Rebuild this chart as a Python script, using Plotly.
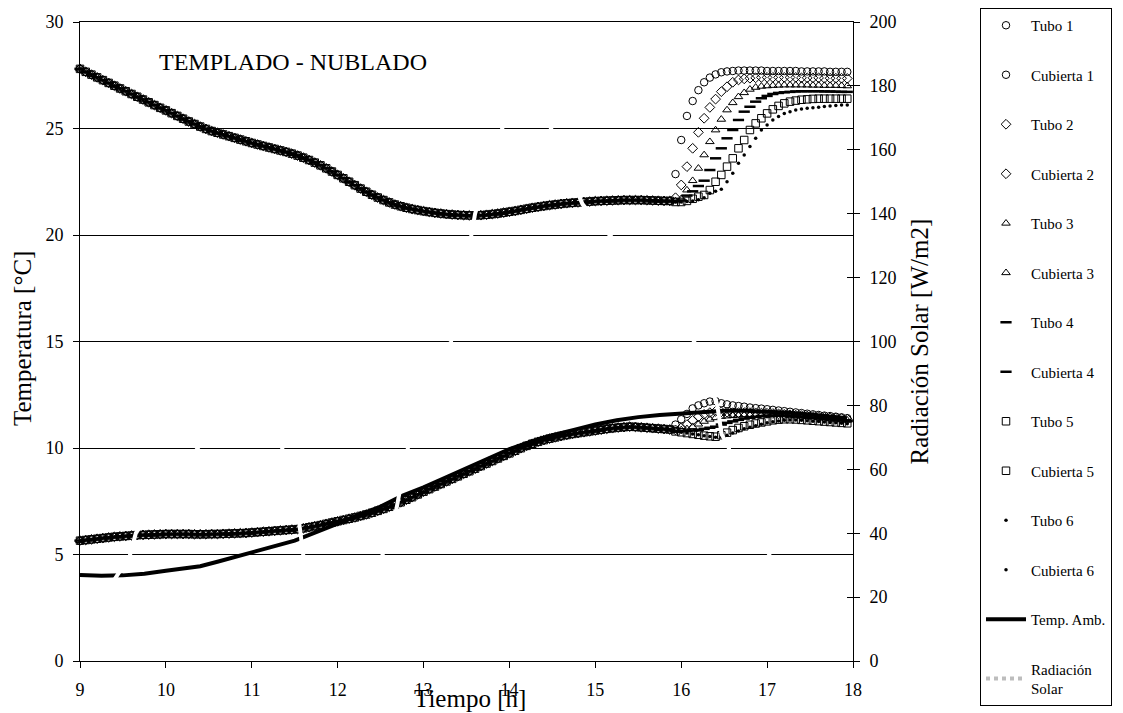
import plotly.graph_objects as go

# ---------------- data ----------------
# sampling instants (every 4 min, 9:00 -> 17:56)
tiempo = [round(9 + k / 15, 4) for k in range(135)]

# Tubos: common trace 9:00-15:52 (all six overlap), then individual tails 15:56-17:56
tubo_base = [
    27.80, 27.66, 27.53, 27.40, 27.27, 27.14, 27.01, 26.88, 26.75, 26.62, 26.49, 26.36, 26.23, 26.10, 25.97,
    25.85, 25.72, 25.59, 25.46, 25.33, 25.21, 25.09, 24.98, 24.88, 24.80, 24.72, 24.64, 24.56, 24.48, 24.40,
    24.32, 24.25, 24.18, 24.11, 24.04, 23.97, 23.90, 23.82, 23.73, 23.63, 23.52, 23.40, 23.27, 23.13, 22.98,
    22.82, 22.66, 22.50, 22.34, 22.18, 22.03, 21.89, 21.76, 21.64, 21.53, 21.43, 21.35, 21.28, 21.22, 21.17,
    21.12, 21.08, 21.04, 21.01, 20.98, 20.96, 20.94, 20.93, 20.92, 20.92, 20.93, 20.95, 20.98, 21.01, 21.05,
    21.09, 21.13, 21.18, 21.23, 21.28, 21.32, 21.36, 21.40, 21.43, 21.46, 21.49, 21.51, 21.53, 21.55, 21.57,
    21.59, 21.60, 21.61, 21.62, 21.63, 21.64, 21.64, 21.64, 21.64, 21.63, 21.62, 21.61, 21.60, 21.60,
]
tubo1_tail = [22.86, 24.46, 25.59, 26.29, 26.80, 27.17, 27.39, 27.54, 27.64, 27.68,
              27.70, 27.72, 27.72, 27.72, 27.72, 27.72, 27.70, 27.70, 27.70, 27.70, 27.70,
              27.70, 27.68, 27.68, 27.68, 27.68, 27.68, 27.66, 27.66, 27.66, 27.66]
tubo2_tail = [21.75, 22.35, 23.21, 24.07, 24.82, 25.48, 25.99, 26.38, 26.73, 26.96, 27.17, 27.28,
              27.33, 27.36, 27.38, 27.40, 27.40, 27.40, 27.40, 27.40, 27.40, 27.40,
              27.38, 27.38, 27.38, 27.38, 27.36, 27.36, 27.36, 27.36, 27.35]
tubo3_tail = [21.60, 21.70, 22.11, 22.55, 23.13, 23.76, 24.38, 24.93, 25.43, 25.87, 26.21, 26.49,
              26.68, 26.84, 26.93, 26.98, 27.00, 27.02, 27.03, 27.04, 27.04, 27.04, 27.04,
              27.04, 27.03, 27.03, 27.02, 27.02, 27.02, 27.01, 27.00]
tubo4_tail = [21.60, 21.62, 21.85, 22.05, 22.30, 22.55, 23.05, 23.60, 24.07, 24.54, 24.93, 25.40,
              25.79, 26.02, 26.26, 26.42, 26.53, 26.62, 26.67, 26.70, 26.72, 26.74, 26.75,
              26.75, 26.75, 26.75, 26.74, 26.74, 26.73, 26.72, 26.72]
tubo5_tail = [21.55, 21.55, 21.60, 21.70, 21.80, 21.88, 22.11, 22.50, 22.82, 23.21, 23.60, 24.07,
              24.46, 24.93, 25.24, 25.48, 25.71, 25.90, 26.06, 26.18, 26.26, 26.31, 26.35,
              26.37, 26.39, 26.40, 26.40, 26.40, 26.40, 26.40, 26.40]
tubo6_tail = [21.55, 21.55, 21.57, 21.60, 21.65, 21.75, 21.96, 22.05, 22.15, 22.50, 22.90, 23.37,
              23.76, 24.15, 24.54, 24.93, 25.16, 25.40, 25.56, 25.71, 25.79, 25.87, 25.91,
              25.95, 25.98, 26.00, 26.03, 26.06, 26.08, 26.10, 26.10]

# Cubiertas: common trace, then individual tails
cubierta_base = [
    5.65, 5.68, 5.71, 5.74, 5.77, 5.80, 5.83, 5.85, 5.87, 5.89, 5.91, 5.92, 5.93, 5.94, 5.95,
    5.96, 5.96, 5.96, 5.96, 5.96, 5.95, 5.95, 5.95, 5.96, 5.96, 5.97, 5.98, 5.99, 6.00, 6.01,
    6.03, 6.05, 6.07, 6.09, 6.11, 6.13, 6.15, 6.17, 6.19, 6.23, 6.28, 6.33, 6.38, 6.44, 6.50,
    6.56, 6.62, 6.68, 6.74, 6.81, 6.88, 6.96, 7.05, 7.14, 7.24, 7.34, 7.45, 7.57, 7.69, 7.82,
    7.95, 8.07, 8.19, 8.31, 8.43, 8.55, 8.67, 8.79, 8.91, 9.03, 9.15, 9.27, 9.39, 9.51, 9.63,
    9.75, 9.87, 9.99, 10.10, 10.20, 10.29, 10.37, 10.44, 10.50, 10.56, 10.61, 10.66, 10.70, 10.74, 10.78,
    10.82, 10.86, 10.90, 10.93, 10.96, 10.98, 11.00, 10.99, 10.97, 10.95, 10.93, 10.91, 10.89, 10.87,
]
cubierta1_tail = [11.10, 11.35, 11.60, 11.86, 12.00, 12.10, 12.18, 12.20, 12.10, 12.05, 12.00,
                  11.97, 11.94, 11.90, 11.87, 11.85, 11.82, 11.79, 11.76, 11.73, 11.70,
                  11.67, 11.64, 11.61, 11.58, 11.55, 11.52, 11.50, 11.47, 11.44, 11.40]
cubierta2_tail = [10.85, 10.95, 11.10, 11.30, 11.47, 11.58, 11.66, 11.72, 11.70, 11.68, 11.66,
                  11.66, 11.66, 11.66, 11.65, 11.64, 11.63, 11.62, 11.60, 11.58, 11.56,
                  11.54, 11.52, 11.50, 11.48, 11.46, 11.44, 11.42, 11.40, 11.38, 11.35]
cubierta3_tail = [10.82, 10.85, 10.90, 11.00, 11.12, 11.25, 11.35, 11.42, 11.48, 11.50, 11.52,
                  11.54, 11.56, 11.57, 11.58, 11.58, 11.58, 11.58, 11.57, 11.55, 11.53,
                  11.51, 11.49, 11.47, 11.45, 11.42, 11.40, 11.37, 11.35, 11.32, 11.30]
cubierta4_tail = [10.80, 10.80, 10.80, 10.82, 10.85, 10.90, 10.95, 11.00, 11.10, 11.18, 11.25,
                  11.32, 11.38, 11.42, 11.46, 11.50, 11.52, 11.53, 11.53, 11.52, 11.50,
                  11.48, 11.46, 11.44, 11.42, 11.40, 11.37, 11.35, 11.32, 11.30, 11.27]
cubierta5_tail = [10.78, 10.74, 10.70, 10.66, 10.62, 10.58, 10.55, 10.53, 10.60, 10.72, 10.84,
                  10.94, 11.02, 11.09, 11.15, 11.20, 11.25, 11.30, 11.33, 11.35, 11.35,
                  11.34, 11.32, 11.30, 11.28, 11.26, 11.24, 11.22, 11.20, 11.18, 11.16]
cubierta6_tail = [10.78, 10.74, 10.70, 10.66, 10.62, 10.58, 10.54, 10.50, 10.52, 10.60, 10.70,
                  10.80, 10.90, 10.98, 11.05, 11.12, 11.18, 11.23, 11.27, 11.30, 11.31,
                  11.31, 11.30, 11.28, 11.26, 11.24, 11.22, 11.20, 11.18, 11.16, 11.14]

# Ambient temperature
amb_tiempo = [9.0, 9.25, 9.5, 9.75, 10.0, 10.25, 10.4, 10.6, 10.8, 11.0, 11.25, 11.5, 11.75,
              12.0, 12.25, 12.5, 12.75, 13.0, 13.25, 13.5, 13.75, 14.0, 14.25, 14.5, 14.75,
              15.0, 15.25, 15.5, 15.75, 16.0, 16.25, 16.5, 16.75, 17.0, 17.25, 17.5, 17.75, 17.93]
amb_temp = [4.04, 4.00, 4.02, 4.10, 4.24, 4.36, 4.45, 4.66, 4.88, 5.07, 5.33, 5.65, 6.05,
            6.45, 6.80, 7.25, 7.75, 8.15, 8.60, 9.05, 9.50, 9.95, 10.30, 10.60, 10.85,
            11.10, 11.30, 11.45, 11.55, 11.63, 11.70, 11.75, 11.75, 11.72, 11.65, 11.57, 11.48, 11.40]

# Solar radiation [W/m2] (drawn white, only visible where it crosses other marks)
rad_tiempo = [9.0, 9.05, 9.2, 9.43, 9.58, 9.65, 9.9, 10.2, 10.38, 10.6, 10.9, 11.15, 11.35,
              11.52, 11.57, 11.6, 11.8, 12.1, 12.35, 12.52, 12.68, 12.82, 13.05, 13.32, 13.45,
              13.56, 13.6, 13.75, 13.92, 14.1, 14.3, 14.48, 14.7, 14.85, 15.0, 15.18, 15.4,
              15.7, 15.95, 16.15, 16.3, 16.42, 16.47, 16.55, 16.7, 16.85, 17.03, 17.3, 17.6, 17.93]
rad_valor = [6, 12, 17, 27, 33, 40, 50, 60, 67, 80, 90, 80, 67,
             50, 39, 33, 25, 21, 27, 33, 47, 67, 83, 100, 117,
             133, 140, 153, 167, 175, 173, 167, 153, 143, 138, 133, 125,
             117, 109, 100, 90, 80, 71, 67, 53, 43, 33, 23, 19, 15]

tubo_tails = [tubo1_tail, tubo2_tail, tubo3_tail, tubo4_tail, tubo5_tail, tubo6_tail]
cub_tails = [cubierta1_tail, cubierta2_tail, cubierta3_tail, cubierta4_tail, cubierta5_tail, cubierta6_tail]
for t in tubo_tails + cub_tails:
    assert len(t) == 31, len(t)
assert len(tubo_base) == 104 and len(cubierta_base) == 104
assert len(rad_tiempo) == len(rad_valor) and len(amb_tiempo) == len(amb_temp)

# ---------------- styles ----------------
FONT = "Liberation Serif"
marker_styles = [
    dict(symbol="circle-open", size=7.5, color="black", line=dict(width=1, color="black")),
    dict(symbol="diamond-open", size=7.5, color="black", line=dict(width=1, color="black")),
    dict(symbol="triangle-up-open", size=7.5, color="black", line=dict(width=1, color="black")),
    dict(symbol="line-ew", size=8, color="black", line=dict(width=2.5, color="black")),
    dict(symbol="square-open", size=7.5, color="black", line=dict(width=1, color="black")),
    dict(symbol="circle", size=3.5, color="black", line=dict(width=0)),
]

fig = go.Figure()
for i in range(6):
    fig.add_trace(go.Scatter(
        x=tiempo, y=tubo_base + tubo_tails[i], mode="markers", name=f"Tubo {i+1}",
        marker=marker_styles[i], legendgroup=f"t{i}", cliponaxis=False))
    fig.add_trace(go.Scatter(
        x=tiempo, y=cubierta_base + cub_tails[i], mode="markers", name=f"Cubierta {i+1}",
        marker=marker_styles[i], legendgroup=f"c{i}", cliponaxis=False))

fig.add_trace(go.Scatter(
    x=amb_tiempo, y=amb_temp, mode="lines", name="Temp. Amb.",
    line=dict(color="black", width=4), legendgroup="amb"))

# radiation curve itself: white line drawn on top of everything
fig.add_trace(go.Scatter(
    x=rad_tiempo, y=rad_valor, mode="lines", name="Radiación Solar",
    line=dict(color="white", width=4), yaxis="y2", showlegend=False,
    legendgroup="rad"))
# legend key for the radiation series (light grey striped sample); it sits on
# the helper axis y3 that draws the inner half of the right-hand cross ticks
fig.add_trace(go.Scatter(
    x=[None], y=[None], mode="lines", name="Radiación<br>Solar",
    line=dict(color="#bdbdbd", width=4, dash="dot"), yaxis="y3", legendgroup="rad"))

# page is offset by the 8px body margin -> figure is 8px smaller and margins shifted
fig.update_layout(
    width=1115, height=705,
    margin=dict(l=72, r=270, t=14, b=52, autoexpand=False),
    paper_bgcolor="white", plot_bgcolor="white",
    font=dict(family=FONT, size=18, color="black"),
    showlegend=True,
    legend=dict(x=1.1643, y=1.0219, xanchor="left", yanchor="top",
                bgcolor="white", bordercolor="black", borderwidth=1,
                font=dict(family=FONT, size=15, color="black"),
                tracegroupgap=27, itemwidth=40, traceorder="grouped",
                maxheight=720),
    xaxis=dict(range=[9, 18], tick0=9, dtick=1, ticks="outside", ticklen=6,
               tickcolor="black", showline=True, linecolor="black", linewidth=1,
               mirror=True, showgrid=False, zeroline=False,
               tickfont=dict(family=FONT, size=18), ticklabelstandoff=6),
    yaxis=dict(range=[0, 30], tick0=0, dtick=5, ticks="outside", ticklen=6,
               tickcolor="black", showline=True, linecolor="black", linewidth=1,
               showgrid=True, gridcolor="black", gridwidth=1, zeroline=False,
               layer="below traces", tickfont=dict(family=FONT, size=18),
               ticklabelstandoff=6),
    yaxis2=dict(range=[0, 200], tick0=0, dtick=20, overlaying="y", side="right",
                ticks="outside", ticklen=6, tickcolor="black", showline=True,
                linecolor="black", linewidth=1, showgrid=False, zeroline=False,
                tickfont=dict(family=FONT, size=18), ticklabelstandoff=6),
    yaxis3=dict(range=[0, 200], tick0=0, dtick=20, overlaying="y", side="right",
                anchor="x", ticks="inside", ticklen=6, tickcolor="black",
                showticklabels=False, showline=False, showgrid=False, zeroline=False),
    annotations=[
        dict(text="TEMPLADO - NUBLADO", x=9.9, y=28.1, xref="x", yref="y",
             xanchor="left", yanchor="middle", showarrow=False,
             font=dict(family=FONT, size=24, color="black")),
        dict(text="Temperatura [°C]", x=-0.074, y=0.505, xref="paper", yref="paper",
             xanchor="center", yanchor="middle", textangle=-90, showarrow=False,
             font=dict(family=FONT, size=25, color="black")),
        dict(text="Radiación Solar [W/m2]", x=1.0854, y=0.5, xref="paper", yref="paper",
             xanchor="center", yanchor="middle", textangle=-90, showarrow=False,
             font=dict(family=FONT, size=25, color="black")),
        dict(text="Tiempo [h]", x=0.5045, y=-0.058, xref="paper", yref="paper",
             xanchor="center", yanchor="middle", showarrow=False,
             font=dict(family=FONT, size=25, color="black")),
    ],
)

fig.write_html("out.html")
